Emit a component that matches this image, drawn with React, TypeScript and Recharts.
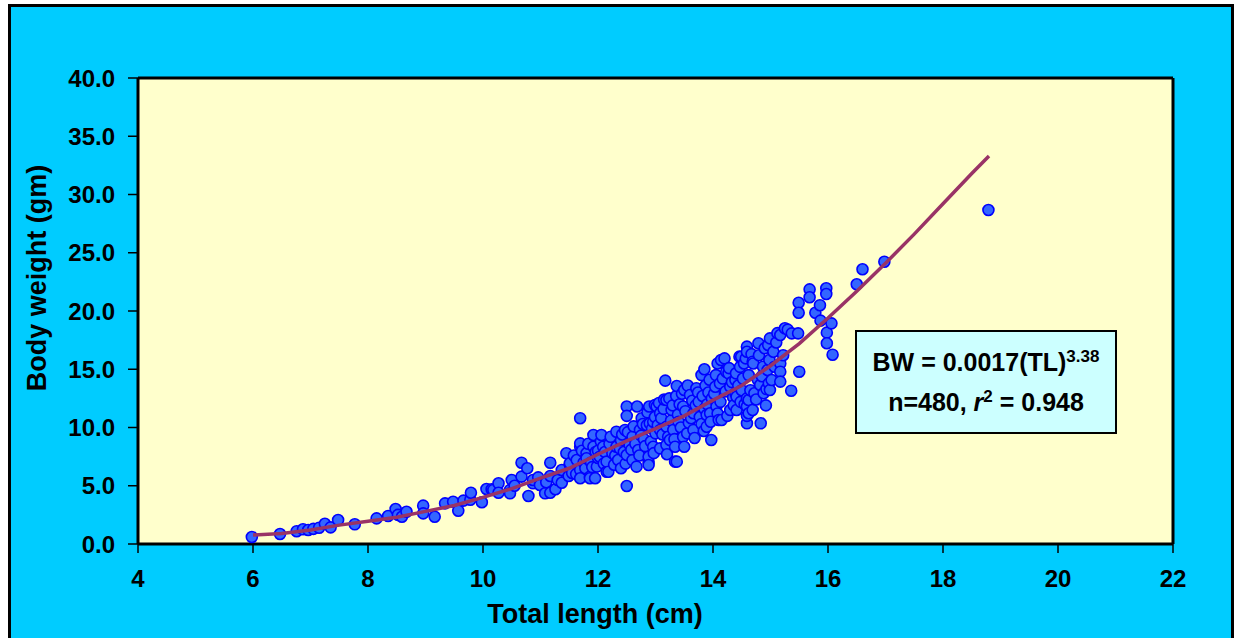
import React from "react";
import {
  ComposedChart,
  Scatter,
  XAxis,
  YAxis,
  CartesianGrid,
  ReferenceLine,
} from "recharts";

// axis ticks
const lengthTicks = [4, 6, 8, 10, 12, 14, 16, 18, 20, 22];
const weightTicks = [0, 5, 10, 15, 20, 25, 30, 35, 40];

const smallFish: [number, number][] = [
  [5.98, 0.6], [6.47, 0.86], [6.76, 1.1], [6.87, 1.26], [6.96, 1.2], [7.05, 1.3],
  [7.15, 1.4], [7.25, 1.74], [7.35, 1.43], [7.48, 2.06], [7.77, 1.69], [8.15, 2.2],
  [8.35, 2.4], [8.48, 3.0], [8.52, 2.5], [8.59, 2.34], [8.67, 2.77], [8.96, 3.29],
  [8.96, 2.63], [9.16, 2.34], [9.34, 3.49], [9.48, 3.63], [9.57, 2.86], [9.66, 3.72],
  [9.78, 3.8], [9.79, 4.4], [9.98, 3.58],
];

const mediumFish: [number, number][] = [
  [10.06, 4.72], [10.15, 4.7], [10.18, 4.64], [10.27, 5.21], [10.27, 4.4], [10.47, 4.64],
  [10.5, 5.49], [10.47, 4.35], [10.55, 5.0], [10.67, 6.98], [10.67, 5.78], [10.77, 6.5],
  [10.79, 4.12], [10.87, 5.21], [10.87, 5.49], [10.96, 5.72], [10.99, 5.06], [11.08, 4.35],
  [11.1, 5.3], [11.17, 6.98], [11.17, 5.84], [11.17, 4.4], [11.26, 4.7], [11.3, 5.5],
  [11.37, 5.26], [11.37, 6.35], [11.45, 7.79], [11.49, 5.84], [11.51, 6.78], [11.51, 6.93],
  [11.55, 6.1], [11.58, 7.6], [11.62, 6.0], [11.63, 7.21], [11.69, 6.35], [11.69, 8.35],
  [11.69, 8.64], [11.69, 10.8], [11.69, 5.64], [11.72, 8.0], [11.75, 7.0], [11.78, 6.5],
  [11.8, 7.79], [11.8, 7.36], [11.83, 8.6], [11.86, 5.78], [11.86, 5.64], [11.88, 7.0],
  [11.9, 6.6], [11.92, 8.35], [11.92, 9.36], [11.95, 5.64], [11.96, 7.9], [11.98, 6.64],
  [12.0, 7.38], [12.0, 8.0], [12.03, 7.49], [12.05, 8.8], [12.06, 9.36], [12.09, 8.35],
  [12.1, 6.9], [12.12, 7.9], [12.15, 6.2], [12.15, 7.07], [12.18, 6.2], [12.2, 8.6],
  [12.22, 9.2], [12.25, 7.8], [12.28, 6.8], [12.3, 7.6], [12.32, 9.64], [12.32, 8.35],
  [12.35, 7.21], [12.38, 8.2], [12.4, 6.5], [12.4, 8.9], [12.42, 9.4], [12.45, 7.9],
  [12.47, 9.79], [12.48, 6.9], [12.5, 11.8], [12.5, 11.0], [12.5, 4.98], [12.5, 7.64],
  [12.52, 9.6], [12.55, 8.5], [12.58, 8.1], [12.6, 9.2], [12.6, 7.2], [12.62, 10.1],
  [12.65, 8.6], [12.67, 6.64], [12.68, 11.8], [12.7, 8.07], [12.72, 7.6], [12.73, 9.79],
  [12.75, 9.3], [12.76, 10.79], [12.78, 10.3], [12.8, 9.0], [12.82, 8.4], [12.85, 10.2],
  [12.86, 11.3], [12.88, 7.07], [12.88, 7.49], [12.88, 6.78], [12.89, 11.8], [12.9, 10.36],
  [12.92, 8.8], [12.94, 9.9], [12.96, 10.5], [12.96, 8.35], [12.97, 7.8], [12.99, 11.93],
  [12.99, 10.9], [13.0, 9.5],
];

const largeFish: [number, number][] = [
  [13.02, 11.8], [13.04, 10.2], [13.06, 12.1], [13.08, 11.22], [13.08, 8.21], [13.08, 9.79],
  [13.1, 10.8], [13.12, 9.4], [13.14, 11.6], [13.15, 12.4], [13.17, 14.02], [13.19, 10.07],
  [13.19, 12.36], [13.19, 8.5], [13.2, 7.7], [13.22, 9.2], [13.24, 12.5], [13.25, 8.93],
  [13.27, 10.6], [13.28, 11.5], [13.3, 11.9], [13.31, 9.79], [13.33, 9.0], [13.34, 7.07],
  [13.34, 8.35], [13.36, 12.7], [13.37, 13.56], [13.37, 7.07], [13.39, 11.1], [13.4, 10.5],
  [13.42, 12.0], [13.44, 10.0], [13.46, 12.9], [13.48, 11.8], [13.48, 9.2], [13.5, 13.22],
  [13.5, 8.35], [13.52, 11.4], [13.55, 9.5], [13.56, 13.6], [13.58, 10.4], [13.6, 12.79],
  [13.62, 10.8], [13.64, 12.3], [13.66, 11.22], [13.66, 9.79], [13.68, 9.1], [13.7, 11.9],
  [13.71, 13.37], [13.74, 13.0], [13.75, 12.2], [13.77, 10.9], [13.8, 10.3], [13.8, 14.5],
  [13.82, 12.7], [13.84, 9.7], [13.85, 11.6], [13.85, 15.0], [13.87, 13.6], [13.89, 10.07],
  [13.89, 11.07], [13.9, 12.0], [13.92, 13.0], [13.94, 14.1], [13.95, 11.22], [13.96, 10.5],
  [13.97, 8.93], [13.98, 12.5], [14.02, 12.9], [14.04, 13.5], [14.05, 14.5], [14.06, 11.8],
  [14.08, 15.5], [14.08, 11.2], [14.1, 10.64], [14.12, 13.79], [14.13, 12.2], [14.14, 15.79],
  [14.15, 10.64], [14.17, 14.2], [14.2, 15.93], [14.22, 13.1], [14.23, 14.79], [14.25, 11.0],
  [14.27, 14.65], [14.28, 15.1], [14.3, 13.5], [14.3, 11.5], [14.33, 13.9], [14.35, 12.6],
  [14.36, 11.9], [14.39, 14.08], [14.39, 12.94], [14.4, 14.65], [14.41, 12.64], [14.41, 11.5],
  [14.44, 13.6], [14.46, 16.08], [14.47, 15.2], [14.48, 12.2], [14.49, 16.07], [14.5, 13.2],
  [14.52, 14.2], [14.54, 15.5], [14.55, 12.0], [14.57, 15.93], [14.59, 16.94], [14.59, 16.5],
  [14.59, 10.36], [14.59, 11.0], [14.59, 11.8], [14.59, 12.5], [14.62, 14.5], [14.62, 12.36],
  [14.62, 11.22], [14.65, 13.2], [14.67, 16.3], [14.69, 15.65], [14.69, 11.5], [14.7, 15.5],
  [14.72, 12.94], [14.75, 12.4], [14.78, 14.08], [14.79, 17.23], [14.8, 16.2], [14.82, 13.65],
  [14.83, 10.36], [14.85, 14.4], [14.87, 15.22], [14.88, 12.94], [14.9, 16.8], [14.92, 11.9],
  [14.93, 13.3], [14.95, 14.94], [14.96, 17.08], [14.97, 13.79], [14.98, 15.79], [14.99, 17.65],
  [14.99, 13.22],
];

const biggestFish: [number, number][] = [
  [15.02, 14.08], [15.05, 16.5], [15.07, 15.22], [15.1, 17.3], [15.12, 18.1], [15.17, 17.94],
  [15.17, 15.5], [15.17, 14.79], [15.17, 13.94], [15.22, 16.2], [15.25, 18.52], [15.3, 18.4],
  [15.36, 13.16], [15.37, 18.08], [15.48, 18.08], [15.49, 20.71], [15.49, 19.85], [15.5, 14.79],
  [15.68, 21.86], [15.68, 21.18], [15.78, 19.85], [15.86, 20.5], [15.87, 19.17], [15.97, 21.95],
  [15.97, 21.46], [15.98, 18.14], [15.98, 17.23], [16.06, 18.94], [16.08, 16.25], [16.5, 22.3],
  [16.6, 23.58], [16.98, 24.23], [18.79, 28.67],
];

// fitted curve BW = 0.0017(TL)^3.38
const fitLength = [6.0, 6.5, 7.0, 7.5, 8.0, 8.5, 9.0, 9.5, 10.0, 10.5, 11.0, 11.5, 12.0, 12.5, 13.0, 13.5, 14.0, 14.5, 15.0, 15.5, 16.0, 16.5, 17.0, 17.5, 18.0, 18.5, 18.8];
const fitWeight = [0.77, 0.9, 1.2, 1.62, 1.95, 2.3, 2.8, 3.3, 4.0, 4.75, 5.65, 6.5, 7.7, 8.85, 9.9, 11.0, 12.35, 13.6, 15.3, 17.2, 19.4, 21.7, 24.1, 26.6, 29.2, 31.8, 33.3];

const observed = [...smallFish, ...mediumFish, ...largeFish, ...biggestFish].map(([x, y]) => ({ x, y }));
const fitted = fitLength.map((x, i) => ({ x, y: fitWeight[i] }));

const font = "'Liberation Sans', Arial, sans-serif";
const tickStyle = { fill: "#000", fontSize: 24, fontWeight: "bold", fontFamily: font };

// blue dot, positioned by the scatter's own scales
const Dot = (props: any) => (
  <circle cx={props.cx} cy={props.cy} r={5.5} fill="#3366FF" stroke="#0000FF" strokeWidth={1.6} />
);

export default function App() {
  return (
    <div style={{ position: "absolute", left: 0, top: 0, width: 1235, height: 638, background: "#fff", overflow: "hidden" }}>
      <div
        style={{
          position: "absolute",
          left: 8,
          top: 4,
          width: 1226,
          height: 660,
          border: "3px solid #000",
          background: "#00CCFF",
          boxSizing: "border-box",
        }}
      />
      <div style={{ position: "absolute", left: 0, top: 0 }}>
        <ComposedChart width={1235} height={638} margin={{ top: 78, right: 62, bottom: 44, left: 58 }}>
          <CartesianGrid horizontal={false} vertical={false} fill="#FFFFCC" />
          <XAxis
            type="number"
            dataKey="x"
            domain={[4, 22]}
            ticks={lengthTicks}
            height={50}
            tick={tickStyle}
            tickSize={9}
            tickMargin={17}
            axisLine={{ stroke: "#000", strokeWidth: 3 }}
            tickLine={{ stroke: "#000", strokeWidth: 1.5 }}
            allowDataOverflow
          />
          <YAxis
            type="number"
            dataKey="y"
            domain={[0, 40]}
            ticks={weightTicks}
            width={80}
            tick={tickStyle}
            tickSize={10}
            tickMargin={13}
            tickFormatter={(v: number) => v.toFixed(1)}
            axisLine={{ stroke: "#000", strokeWidth: 3 }}
            tickLine={{ stroke: "#000", strokeWidth: 1.5 }}
            allowDataOverflow
          />
          <ReferenceLine y={40} stroke="#000" strokeWidth={3} />
          <ReferenceLine x={22} stroke="#000" strokeWidth={3} />
          <Scatter data={observed} shape={Dot} isAnimationActive={false} />
          <Scatter
            data={fitted}
            line={{ stroke: "#993366", strokeWidth: 3.5 }}
            shape={() => <g />}
            isAnimationActive={false}
          />
        </ComposedChart>
      </div>

      <div
        style={{
          position: "absolute",
          left: 37,
          top: 278,
          transform: "translate(-50%, -50%) rotate(-90deg)",
          whiteSpace: "nowrap",
          fontFamily: font,
          fontWeight: "bold",
          fontSize: 27,
          color: "#000",
        }}
      >
        Body weight (gm)
      </div>
      <div
        style={{
          position: "absolute",
          left: 595,
          top: 614,
          transform: "translate(-50%, -50%)",
          whiteSpace: "nowrap",
          fontFamily: font,
          fontWeight: "bold",
          fontSize: 27,
          color: "#000",
        }}
      >
        Total length (cm)
      </div>

      <div
        style={{
          position: "absolute",
          left: 855,
          top: 330,
          width: 262,
          height: 104,
          border: "2px solid #000",
          background: "#CCFFFF",
          boxSizing: "border-box",
          fontFamily: font,
          fontWeight: "bold",
          fontSize: 25,
          color: "#000",
          textAlign: "center",
          paddingTop: 10,
          lineHeight: "40px",
        }}
      >
        <div>
          BW = 0.0017(TL)<sup style={{ fontSize: 17, lineHeight: 0 }}>3.38</sup>
        </div>
        <div>
          n=480, <i>r</i>
          <sup style={{ fontSize: 17, lineHeight: 0 }}>2</sup> = 0.948
        </div>
      </div>
    </div>
  );
}
